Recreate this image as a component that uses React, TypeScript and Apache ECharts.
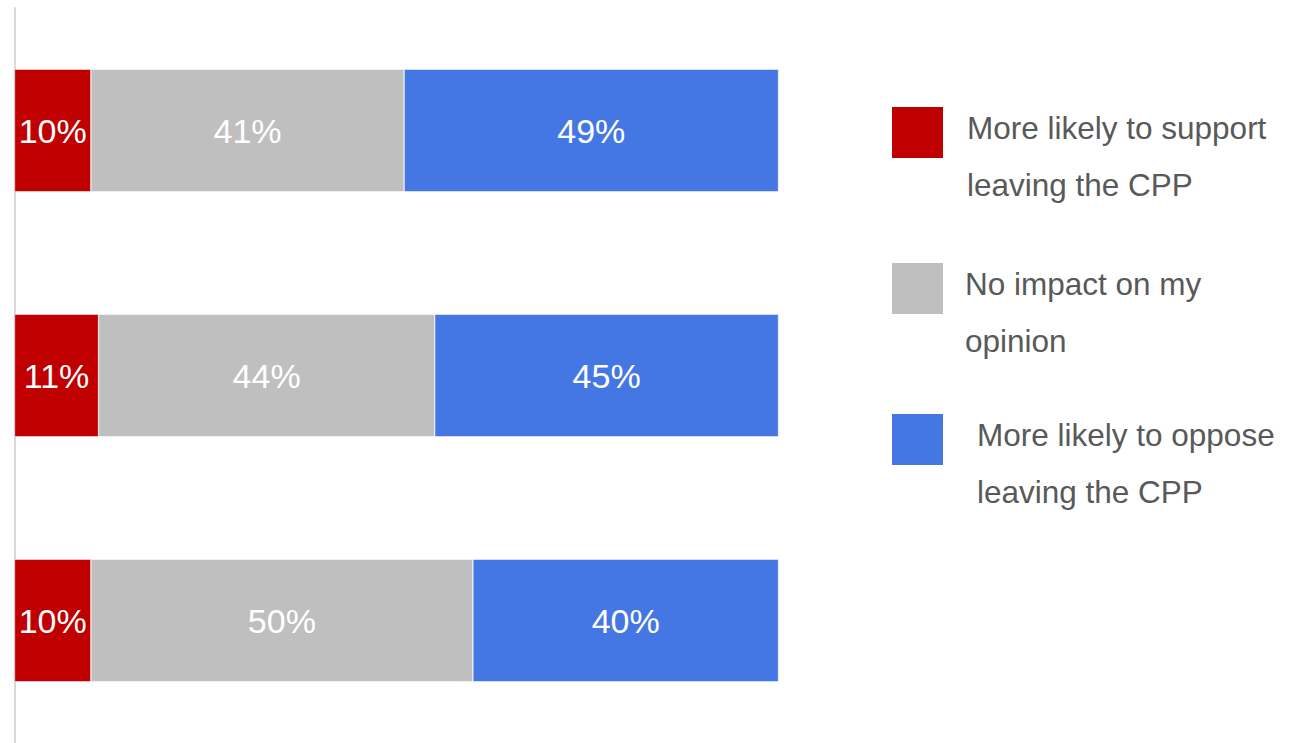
import React, { useEffect, useRef } from "react";
import * as echarts from "echarts";

const categories = ["Group A", "Group B", "Group C"];
const seriesNames = [
  "More likely to support\nleaving the CPP",
  "No impact on my\nopinion",
  "More likely to oppose\nleaving the CPP",
];
const seriesColors = ["#C00000", "#BFBFBF", "#4477E4"];
const supportValues = [10, 11, 10];
const noImpactValues = [41, 44, 50];
const opposeValues = [49, 45, 40];
const seriesValues = [supportValues, noImpactValues, opposeValues];

const legendBoxTops = [107, 263, 414];
const legendTextLefts = [967, 965, 977];

export default function App() {
  const ref = useRef<HTMLDivElement>(null);
  useEffect(() => {
    if (!ref.current) return;
    const chart = echarts.init(ref.current, undefined, { renderer: "svg" });
    const font = "'Liberation Sans', Arial, Helvetica, sans-serif";
    const graphics: any[] = [];
    seriesNames.forEach((name, i) => {
      graphics.push({
        type: "rect",
        left: 892,
        top: legendBoxTops[i],
        shape: { width: 51, height: 51 },
        style: { fill: seriesColors[i] },
      });
      graphics.push({
        type: "text",
        left: legendTextLefts[i],
        top: legendBoxTops[i] - 8,
        style: {
          text: name,
          fill: "#595959",
          font: `31.5px ${font}`,
          lineHeight: 57,
        },
      });
    });
    chart.setOption({
      animation: false,
      backgroundColor: "#ffffff",
      grid: { left: 14.5, top: 8, width: 764, height: 739, containLabel: false },
      xAxis: {
        type: "value",
        min: 0,
        max: 100,
        show: false,
      },
      yAxis: {
        type: "category",
        data: categories,
        inverse: true,
        axisLine: { show: true, lineStyle: { color: "#D9D9D9", width: 2 } },
        axisTick: { show: false },
        axisLabel: { show: false },
      },
      series: seriesNames.map((name, i) => ({
        name,
        type: "bar",
        stack: "total",
        barWidth: "50%",
        data: seriesValues[i],
        itemStyle: { color: seriesColors[i], borderColor: "#ffffff", borderWidth: 0.5 },
        label: {
          show: true,
          position: "inside",
          formatter: "{c}%",
          color: "#ffffff",
          fontSize: 34,
          fontFamily: font,
        },
      })),
      graphic: graphics,
    });
    return () => chart.dispose();
  }, []);
  return (
    <div
      ref={ref}
      style={{ position: "absolute", left: 0, top: 0, width: 1303, height: 743 }}
    />
  );
}
